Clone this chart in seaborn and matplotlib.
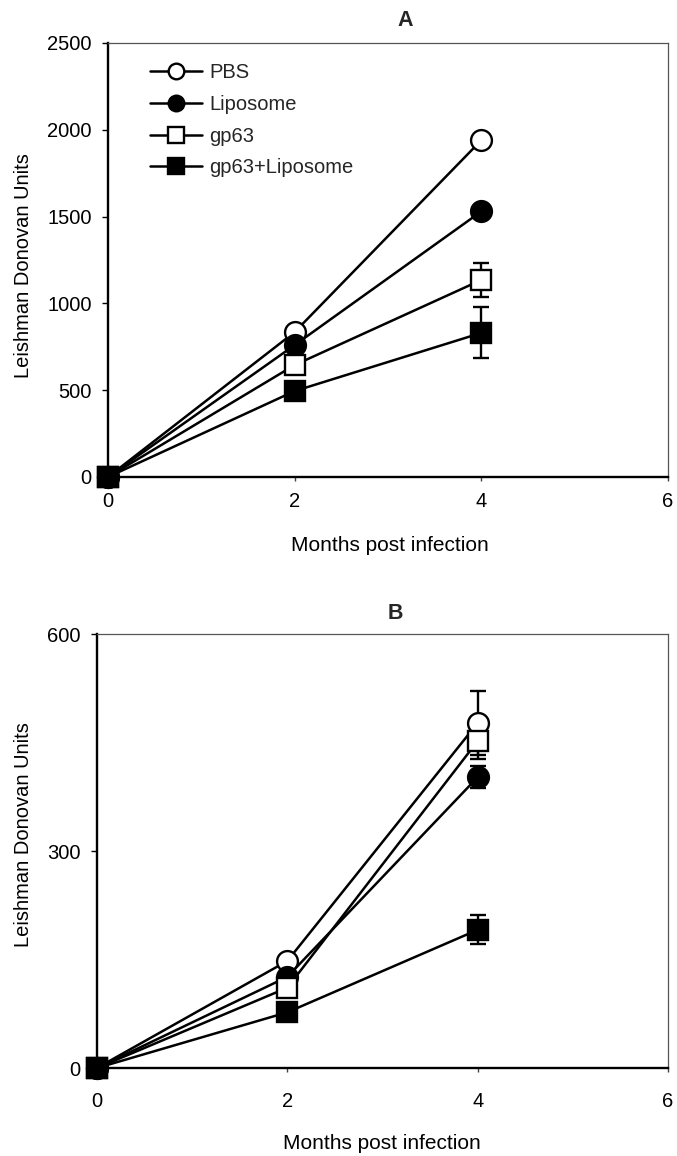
import matplotlib
matplotlib.use("Agg")
import matplotlib.pyplot as plt
import seaborn as sns
import pandas as pd

sns.set_theme(style="ticks")
plt.rcParams['font.family'] = ['Liberation Sans', 'DejaVu Sans']

months = [0, 2, 4]
series_names = ["PBS", "Liposome", "gp63", "gp63+Liposome"]

# Panel A values
A_pbs = [0, 835, 1940]
A_lip = [0, 760, 1530]
A_gp63 = [0, 645, 1135]
A_gp63lip = [0, 495, 830]
A_pbs_err = [0, 0, 0]
A_lip_err = [0, 0, 0]
A_gp63_err = [0, 0, 98]
A_gp63lip_err = [0, 0, 147]

# Panel B values
B_pbs = [0, 148, 477]
B_lip = [0, 126, 402]
B_gp63 = [0, 111, 452]
B_gp63lip = [0, 77, 191]
B_pbs_err = [0, 0, 44]
B_lip_err = [0, 0, 15]
B_gp63_err = [0, 0, 25]
B_gp63lip_err = [0, 0, 20]

A_yticks = [0, 500, 1000, 1500, 2000, 2500]
B_yticks = [0, 300, 600]
xticks = [0, 2, 4, 6]

markers = {"PBS": ("o", "white"), "Liposome": ("o", "black"),
           "gp63": ("s", "white"), "gp63+Liposome": ("s", "black")}

W, H = 677, 1156
fig = plt.figure(figsize=(W / 100, H / 100), dpi=100)
axA = fig.add_axes([108 / W, 1 - 477 / H, 560 / W, 434 / H])
axB = fig.add_axes([97 / W, 1 - 1068 / H, 571 / W, 434 / H])

FS = 14.5


def draw(ax, vals, errs, legend):
    for name, y, e in zip(series_names, vals, errs):
        df = pd.DataFrame({"Months": months, "LDU": y})
        mk, fc = markers[name]
        ax.errorbar(months, y, yerr=e, fmt="none", ecolor="black",
                    elinewidth=1.7, capsize=6, capthick=1.7, zorder=2, clip_on=False)
        sns.lineplot(data=df, x="Months", y="LDU", ax=ax, color="black",
                     marker=mk, markerfacecolor=fc, markeredgecolor="black",
                     markersize=15, markeredgewidth=1.7, linewidth=1.8,
                     label=name if legend else None, zorder=3, clip_on=False)
    if ax.get_legend() is not None:
        ax.get_legend().remove()


draw(axA, [A_pbs, A_lip, A_gp63, A_gp63lip],
     [A_pbs_err, A_lip_err, A_gp63_err, A_gp63lip_err], True)
draw(axB, [B_pbs, B_lip, B_gp63, B_gp63lip],
     [B_pbs_err, B_lip_err, B_gp63_err, B_gp63lip_err], False)

axA.set_ylim(0, 2500)
axB.set_ylim(0, 600)
axA.set_yticks(A_yticks)
axB.set_yticks(B_yticks)

for ax, xpad in ((axA, 7.5), (axB, 14)):
    ax.set_xlim(0, 6)
    ax.set_xticks(xticks)
    ax.tick_params(axis="y", direction="out", length=4.3, width=1, pad=7.5,
                   labelsize=FS, color="black", labelcolor="black")
    ax.tick_params(axis="x", direction="out", length=3, width=1, pad=xpad,
                   labelsize=FS, color="#444444", labelcolor="black")
    for s in ("left", "bottom"):
        ax.spines[s].set_color("black")
        ax.spines[s].set_linewidth(1.7)
    for s in ("top", "right"):
        ax.spines[s].set_color("#555555")
        ax.spines[s].set_linewidth(0.9)
    ax.set_xlabel("Months post infection", fontsize=15, color="black")
    ax.set_ylabel("Leishman Donovan Units", fontsize=FS, color="black")
    ax.xaxis.label.set_va("center")
    ax.yaxis.label.set_va("center")
    ax.set_facecolor("white")

axA.xaxis.set_label_coords(0.503, -0.157)
axB.xaxis.set_label_coords(0.499, -0.173)
axA.yaxis.set_label_coords(-0.15, 0.488)
axB.yaxis.set_label_coords(-0.128, 0.537)

axA.text(0.530, 1.051, "A", transform=axA.transAxes, ha="center", va="center",
         fontsize=15.5, fontweight="bold")
axB.text(0.522, 1.048, "B", transform=axB.transAxes, ha="center", va="center",
         fontsize=15.5, fontweight="bold")

handles = axA.get_lines()
handles = [h for h in handles if h.get_label() in series_names]
axA.legend(handles=handles, labels=[h.get_label() for h in handles],
           loc="upper left", bbox_to_anchor=(0.075, 0.953), frameon=False,
           borderpad=0, borderaxespad=0, handlelength=2.58, handletextpad=0.35,
           labelspacing=0.63, fontsize=FS, markerscale=0.75)

fig.savefig("out.png", dpi=100, facecolor="white")
